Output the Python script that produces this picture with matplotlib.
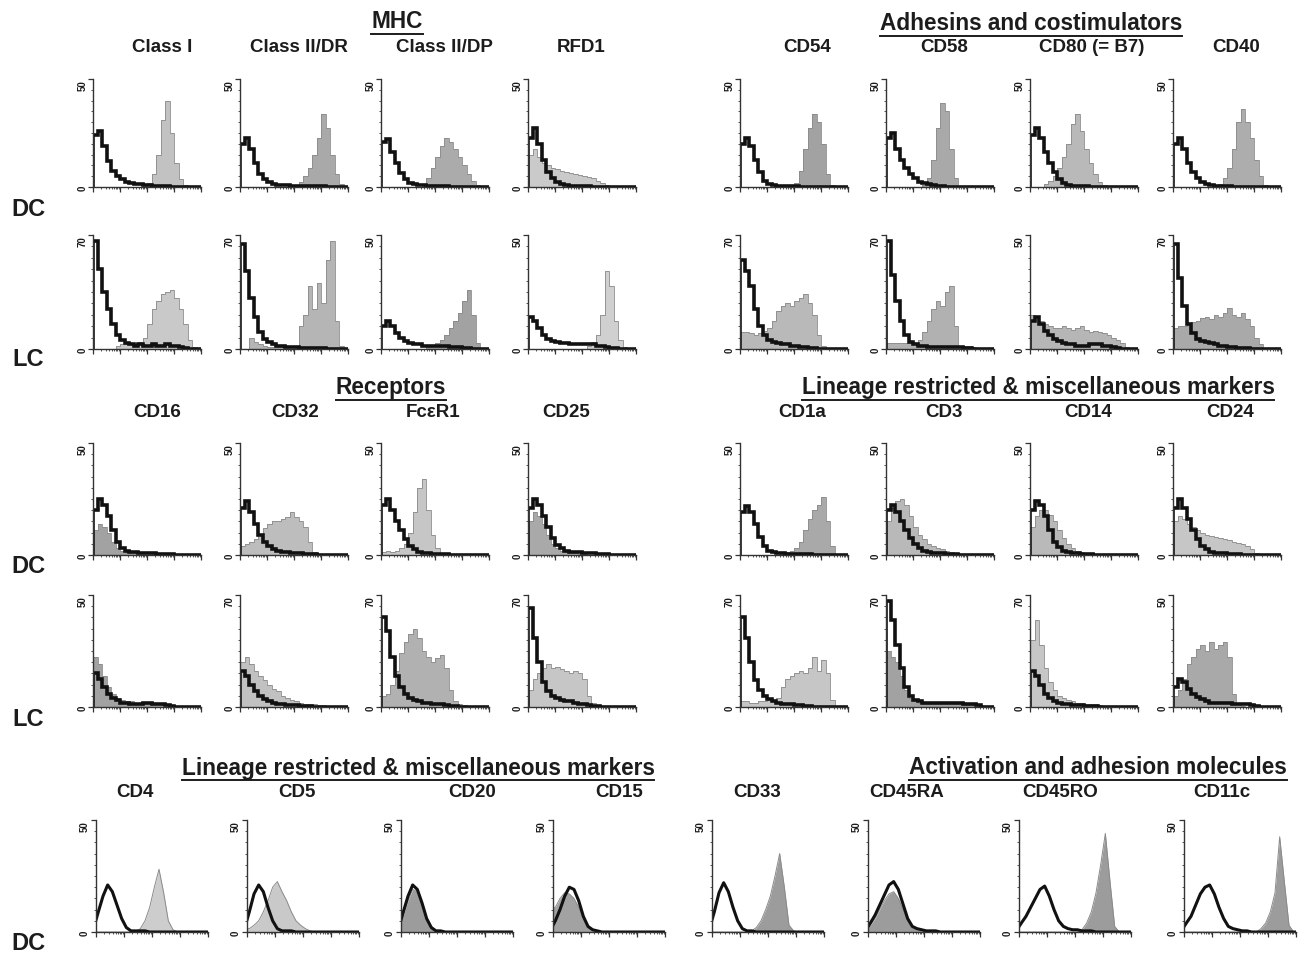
import matplotlib
matplotlib.use("Agg")
import matplotlib.pyplot as plt
from matplotlib.lines import Line2D
import numpy as np

plt.rcParams['font.family'] = ['Liberation Sans', 'DejaVu Sans']

# ---- data: 24 log-scale bins per histogram, % of the y-axis height ----
TOP_MARKERS = ["Class I", "Class II/DR", "Class II/DP", "RFD1",
               "CD54", "CD58", "CD80 (= B7)", "CD40"]
TOP_DC_CTRL = [
    [48, 52, 38, 24, 15, 10, 7, 5, 4, 3, 3, 2, 2, 1, 1, 1, 1, 0, 0, 0, 0, 0, 0, 0],
    [40, 45, 35, 22, 12, 7, 5, 3, 2, 2, 2, 1, 1, 1, 1, 1, 1, 1, 1, 0, 0, 0, 0, 0],
    [42, 44, 32, 22, 13, 7, 4, 3, 2, 2, 1, 1, 1, 1, 1, 0, 0, 0, 0, 0, 0, 0, 0, 0],
    [45, 55, 40, 25, 14, 8, 5, 3, 2, 1, 1, 1, 1, 1, 0, 0, 0, 0, 0, 0, 0, 0, 0, 0],
    [40, 45, 38, 25, 14, 6, 3, 2, 1, 1, 1, 1, 1, 0, 0, 0, 0, 0, 0, 0, 0, 0, 0, 0],
    [45, 50, 35, 25, 18, 12, 8, 5, 4, 3, 2, 1, 1, 0, 0, 0, 0, 0, 0, 0, 0, 0, 0, 0],
    [48, 55, 45, 32, 22, 14, 7, 4, 2, 1, 1, 1, 1, 0, 0, 0, 0, 0, 0, 0, 0, 0, 0, 0],
    [40, 45, 35, 22, 14, 8, 5, 3, 2, 1, 1, 1, 1, 0, 0, 0, 0, 0, 0, 0, 0, 0, 0, 0],
]
TOP_DC_STAIN = [
    [0, 0, 0, 0, 0, 0, 0, 0, 0, 0, 0, 1, 4, 12, 30, 62, 80, 50, 22, 7, 2, 0, 0, 0],
    [0, 0, 0, 0, 0, 0, 0, 0, 0, 0, 0, 0, 2, 5, 10, 18, 30, 45, 68, 55, 30, 12, 3, 0],
    [0, 0, 0, 0, 0, 0, 0, 0, 0, 3, 8, 18, 28, 38, 45, 42, 35, 28, 20, 12, 6, 2, 0, 0],
    [30, 35, 28, 22, 20, 18, 17, 15, 14, 13, 12, 11, 10, 9, 8, 6, 4, 2, 1, 0, 0, 0, 0, 0],
    [0, 0, 0, 0, 0, 0, 0, 0, 0, 0, 0, 1, 4, 15, 35, 55, 68, 60, 40, 12, 2, 0, 0, 0],
    [0, 0, 0, 0, 0, 0, 0, 0, 2, 8, 25, 55, 78, 70, 35, 8, 1, 0, 0, 0, 0, 0, 0, 0],
    [0, 0, 0, 3, 6, 10, 18, 28, 40, 58, 68, 52, 35, 22, 12, 5, 2, 0, 0, 0, 0, 0, 0, 0],
    [0, 0, 0, 0, 0, 0, 0, 0, 0, 0, 3, 8, 18, 35, 60, 72, 60, 45, 25, 10, 2, 0, 0, 0],
]
TOP_LC_CTRL = [
    [95, 70, 50, 35, 22, 12, 8, 5, 4, 3, 4, 3, 3, 4, 3, 3, 4, 3, 3, 2, 1, 0, 0, 0],
    [92, 68, 45, 28, 15, 9, 6, 4, 3, 3, 2, 2, 2, 1, 1, 1, 1, 1, 1, 0, 0, 0, 0, 0],
    [20, 25, 20, 14, 10, 7, 5, 4, 4, 3, 3, 3, 3, 3, 3, 2, 2, 2, 1, 1, 0, 0, 0, 0],
    [28, 25, 18, 12, 9, 7, 6, 5, 5, 4, 4, 4, 4, 4, 4, 3, 3, 2, 1, 1, 0, 0, 0, 0],
    [78, 68, 55, 35, 20, 12, 8, 6, 5, 4, 4, 3, 3, 2, 2, 1, 1, 0, 0, 0, 0, 0, 0, 0],
    [95, 65, 42, 25, 12, 6, 4, 3, 3, 2, 2, 2, 2, 2, 2, 2, 2, 1, 1, 0, 0, 0, 0, 0],
    [25, 28, 22, 16, 12, 9, 7, 5, 4, 4, 3, 3, 3, 4, 4, 4, 3, 3, 2, 1, 0, 0, 0, 0],
    [92, 62, 38, 22, 14, 9, 7, 6, 5, 4, 3, 3, 2, 2, 1, 1, 1, 0, 0, 0, 0, 0, 0, 0],
]
TOP_LC_STAIN = [
    [0, 0, 0, 0, 0, 3, 4, 4, 5, 5, 6, 10, 22, 35, 42, 48, 50, 52, 45, 35, 22, 8, 2, 0],
    [0, 0, 10, 6, 4, 3, 2, 2, 2, 2, 2, 2, 3, 20, 30, 55, 35, 58, 40, 78, 95, 25, 3, 0],
    [0, 0, 0, 0, 0, 0, 0, 0, 0, 0, 2, 3, 5, 8, 12, 18, 25, 32, 42, 52, 30, 5, 0, 0],
    [0, 0, 0, 0, 0, 0, 0, 0, 0, 0, 0, 0, 0, 3, 6, 12, 30, 68, 55, 25, 8, 2, 0, 0],
    [15, 15, 14, 12, 14, 16, 18, 25, 33, 38, 40, 38, 42, 45, 48, 40, 30, 12, 3, 0, 0, 0, 0, 0],
    [5, 5, 5, 5, 5, 5, 5, 8, 15, 25, 35, 42, 38, 50, 55, 20, 3, 3, 3, 2, 0, 0, 0, 0],
    [30, 28, 25, 22, 20, 18, 18, 20, 18, 17, 18, 20, 17, 15, 16, 15, 14, 12, 10, 8, 5, 2, 0, 0],
    [18, 20, 20, 22, 24, 25, 27, 28, 26, 30, 28, 32, 36, 30, 28, 32, 26, 20, 10, 4, 1, 0, 0, 0],
]

MID_MARKERS = ["CD16", "CD32", "FcεR1", "CD25", "CD1a", "CD3", "CD14", "CD24"]
MID_DC_CTRL = [
    [40, 50, 45, 35, 22, 12, 6, 4, 3, 3, 2, 2, 2, 2, 1, 1, 1, 1, 0, 0, 0, 0, 0, 0],
    [42, 48, 38, 28, 18, 12, 8, 5, 4, 3, 3, 2, 2, 2, 1, 1, 1, 0, 0, 0, 0, 0, 0, 0],
    [45, 50, 40, 30, 22, 14, 8, 5, 3, 2, 2, 1, 1, 1, 1, 0, 0, 0, 0, 0, 0, 0, 0, 0],
    [42, 50, 45, 35, 25, 15, 9, 6, 4, 3, 3, 3, 2, 2, 2, 1, 1, 1, 0, 0, 0, 0, 0, 0],
    [38, 44, 38, 28, 16, 8, 4, 3, 2, 2, 1, 1, 1, 1, 1, 1, 0, 0, 0, 0, 0, 0, 0, 0],
    [40, 45, 38, 30, 22, 15, 10, 6, 4, 3, 2, 2, 2, 1, 1, 1, 0, 0, 0, 0, 0, 0, 0, 0],
    [40, 48, 45, 35, 22, 12, 7, 4, 3, 2, 2, 1, 1, 1, 0, 0, 0, 0, 0, 0, 0, 0, 0, 0],
    [42, 50, 42, 32, 22, 14, 8, 5, 3, 2, 2, 2, 1, 1, 1, 0, 0, 0, 0, 0, 0, 0, 0, 0],
]
MID_DC_STAIN = [
    [22, 28, 25, 20, 12, 6, 4, 3, 2, 2, 2, 2, 2, 1, 1, 1, 1, 1, 0, 0, 0, 0, 0, 0],
    [8, 10, 12, 14, 18, 24, 28, 30, 30, 32, 34, 38, 34, 30, 25, 12, 3, 0, 0, 0, 0, 0, 0, 0],
    [3, 4, 3, 4, 6, 10, 20, 38, 60, 68, 40, 18, 6, 2, 1, 0, 0, 0, 0, 0, 0, 0, 0, 0],
    [30, 38, 35, 28, 18, 10, 6, 4, 3, 2, 2, 1, 1, 0, 0, 0, 0, 0, 0, 0, 0, 0, 0, 0],
    [0, 0, 0, 0, 0, 0, 0, 0, 2, 2, 3, 4, 6, 12, 22, 32, 40, 45, 52, 30, 8, 1, 0, 0],
    [30, 42, 48, 50, 45, 35, 25, 18, 14, 10, 8, 6, 5, 4, 3, 2, 1, 0, 0, 0, 0, 0, 0, 0],
    [25, 35, 40, 40, 36, 30, 22, 15, 10, 6, 4, 3, 2, 1, 0, 0, 0, 0, 0, 0, 0, 0, 0, 0],
    [30, 35, 32, 28, 25, 22, 20, 18, 17, 16, 15, 14, 13, 12, 11, 10, 8, 5, 2, 0, 0, 0, 0, 0],
]
MID_LC_CTRL = [
    [30, 25, 18, 12, 8, 6, 4, 4, 3, 3, 3, 4, 4, 3, 3, 3, 2, 1, 0, 0, 0, 0, 0, 0],
    [32, 28, 20, 14, 10, 7, 5, 4, 3, 3, 2, 2, 2, 1, 1, 1, 0, 0, 0, 0, 0, 0, 0, 0],
    [80, 68, 45, 28, 18, 12, 8, 6, 5, 4, 4, 3, 3, 3, 2, 1, 1, 0, 0, 0, 0, 0, 0, 0],
    [88, 62, 40, 22, 14, 10, 8, 6, 5, 5, 4, 3, 3, 2, 1, 1, 0, 0, 0, 0, 0, 0, 0, 0],
    [80, 62, 40, 24, 15, 10, 7, 5, 4, 3, 3, 3, 2, 2, 1, 1, 0, 0, 0, 0, 0, 0, 0, 0],
    [95, 78, 55, 35, 18, 10, 6, 5, 4, 4, 4, 4, 4, 4, 4, 4, 4, 3, 3, 3, 2, 0, 0, 0],
    [32, 28, 20, 12, 8, 5, 4, 3, 3, 2, 2, 2, 1, 1, 1, 0, 0, 0, 0, 0, 0, 0, 0, 0],
    [18, 25, 22, 16, 12, 9, 7, 5, 4, 4, 4, 4, 4, 3, 3, 3, 3, 2, 1, 0, 0, 0, 0, 0],
]
MID_LC_STAIN = [
    [45, 38, 28, 18, 12, 8, 6, 5, 5, 4, 4, 4, 4, 3, 3, 2, 1, 0, 0, 0, 0, 0, 0, 0],
    [40, 45, 38, 32, 28, 24, 20, 16, 14, 10, 8, 6, 5, 4, 3, 3, 3, 2, 2, 1, 0, 0, 0, 0],
    [10, 12, 20, 32, 48, 58, 65, 70, 62, 50, 45, 40, 44, 46, 35, 15, 5, 3, 2, 1, 0, 0, 0, 0],
    [15, 25, 30, 35, 38, 35, 36, 34, 32, 30, 32, 30, 25, 10, 4, 2, 1, 0, 0, 0, 0, 0, 0, 0],
    [5, 5, 4, 4, 5, 5, 6, 6, 8, 18, 25, 28, 30, 32, 30, 35, 45, 32, 42, 30, 6, 0, 0, 0],
    [50, 45, 40, 28, 15, 8, 5, 4, 3, 3, 3, 3, 3, 3, 3, 3, 3, 2, 2, 2, 1, 0, 0, 0],
    [60, 78, 55, 35, 22, 15, 10, 8, 6, 5, 4, 4, 3, 3, 3, 2, 1, 0, 0, 0, 0, 0, 0, 0],
    [10, 15, 25, 38, 45, 52, 55, 50, 58, 52, 55, 58, 45, 12, 3, 1, 0, 0, 0, 0, 0, 0, 0, 0],
]

BOT_MARKERS = ["CD4", "CD5", "CD20", "CD15", "CD33", "CD45RA", "CD45RO", "CD11c"]
BOT_DC_CTRL = [
    [18, 32, 42, 36, 24, 12, 4, 1, 1, 1, 1, 0, 0, 0, 0, 0, 0, 0, 0, 0, 0, 0, 0, 0],
    [18, 34, 42, 36, 22, 10, 3, 1, 1, 1, 0, 0, 0, 0, 0, 0, 0, 0, 0, 0, 0, 0, 0, 0],
    [18, 32, 42, 38, 26, 12, 4, 1, 1, 0, 0, 0, 0, 0, 0, 0, 0, 0, 0, 0, 0, 0, 0, 0],
    [10, 20, 32, 40, 38, 28, 14, 5, 2, 1, 0, 0, 0, 0, 0, 0, 0, 0, 0, 0, 0, 0, 0, 0],
    [18, 35, 44, 36, 22, 10, 3, 1, 1, 0, 0, 0, 0, 0, 0, 0, 0, 0, 0, 0, 0, 0, 0, 0],
    [8, 15, 24, 33, 42, 45, 38, 25, 12, 5, 3, 2, 1, 1, 1, 0, 0, 0, 0, 0, 0, 0, 0, 0],
    [8, 14, 22, 30, 38, 41, 32, 20, 10, 5, 3, 2, 2, 1, 1, 1, 0, 0, 0, 0, 0, 0, 0, 0],
    [8, 14, 24, 34, 40, 42, 34, 22, 12, 5, 3, 2, 1, 1, 0, 0, 0, 0, 0, 0, 0, 0, 0, 0],
]
BOT_DC_STAIN = [
    [0, 0, 0, 0, 0, 0, 0, 0, 0, 3, 10, 22, 40, 56, 35, 10, 2, 0, 0, 0, 0, 0, 0, 0],
    [3, 6, 10, 18, 28, 40, 45, 36, 28, 18, 10, 6, 3, 1, 0, 0, 0, 0, 0, 0, 0, 0, 0, 0],
    [15, 28, 38, 36, 24, 10, 3, 1, 0, 0, 0, 0, 0, 0, 0, 0, 0, 0, 0, 0, 0, 0, 0, 0],
    [22, 30, 35, 34, 30, 22, 12, 5, 2, 0, 0, 0, 0, 0, 0, 0, 0, 0, 0, 0, 0, 0, 0, 0],
    [0, 0, 0, 0, 0, 0, 0, 0, 1, 4, 10, 20, 32, 50, 70, 40, 6, 1, 0, 0, 0, 0, 0, 0],
    [6, 12, 20, 28, 34, 36, 30, 20, 10, 4, 2, 1, 0, 0, 0, 0, 0, 0, 0, 0, 0, 0, 0, 0],
    [0, 0, 0, 0, 0, 0, 0, 0, 0, 0, 0, 0, 0, 2, 8, 18, 35, 60, 88, 45, 5, 0, 0, 0],
    [0, 0, 0, 0, 0, 0, 0, 0, 0, 0, 0, 0, 0, 0, 0, 0, 3, 8, 18, 35, 85, 45, 6, 0],
]

TOP_DC_YMAX = ["50"] * 8
TOP_LC_YMAX = ["70", "70", "50", "50", "70", "70", "50", "70"]
MID_DC_YMAX = ["50"] * 8
MID_LC_YMAX = ["50", "70", "70", "70", "70", "70", "70", "50"]
BOT_DC_YMAX = ["50"] * 8

# ---- styles / layout (pixels) ----
W, H = 1307, 954
TOP_DC_COL = ["#c2c2c2", "#a9a9a9", "#ababab", "#cacaca", "#a2a2a2", "#a9a9a9", "#b9b9b9", "#adadad"]
TOP_LC_COL = ["#c9c9c9", "#b5b5b5", "#a2a2a2", "#d0d0d0", "#b9b9b9", "#b1b1b1", "#b6b6b6", "#a9a9a9"]
MID_DC_COL = ["#a2a2a2", "#bdbdbd", "#c6c6c6", "#a9a9a9", "#a9a9a9", "#b9b9b9", "#b9b9b9", "#c6c6c6"]
MID_LC_COL = ["#a2a2a2", "#c1c1c1", "#b1b1b1", "#c6c6c6", "#c6c6c6", "#a2a2a2", "#c6c6c6", "#a9a9a9"]
BOT_DC_COL = ["#cdcdcd", "#c9c9c9", "#9c9c9c", "#a2a2a2", "#9c9c9c", "#9c9c9c", "#9c9c9c", "#9c9c9c"]

GRID_X = [93, 240, 381, 528, 740, 886, 1030, 1173]
BOT_X = [96, 247, 401, 553, 712, 868, 1019, 1184]
INK = "#1c1c1c"

fig = plt.figure(figsize=(W / 100, H / 100), dpi=100)


def panel(x0, top, base, ctrl, stain, color, ymax, width=108, smooth=False):
    ax = fig.add_axes([x0 / W, 1 - base / H, width / W, (base - top) / H])
    n = len(ctrl)
    if smooth:
        # bottom row: traces drawn as continuous curves
        xs = np.concatenate([[0], np.arange(n) + 0.5, [n]])
        st = np.concatenate([[stain[0]], stain, [0]])
        ct = np.concatenate([[ctrl[0] * 0.6], ctrl, [0]])
        ax.fill_between(xs, st, color=color, lw=0)
        ax.plot(xs, st, color="#8a8a8a", lw=0.7)
        ax.plot(xs, ct, color="#111111", lw=2.2, solid_joinstyle="round")
    else:
        edges = np.arange(n + 1)
        ax.stairs(stain, edges, fill=True, color=color, lw=0)
        ax.stairs(stain, edges, color="#8a8a8a", lw=0.6)
        ax.stairs(ctrl, edges, color="#111111", lw=2.6)
    ax.set_xlim(0, n)
    ax.set_ylim(0, 100)
    for s in ("top", "right"):
        ax.spines[s].set_visible(False)
    for s in ("left", "bottom"):
        ax.spines[s].set_linewidth(1.0)
        ax.spines[s].set_color("#333333")
    ax.set_yticks([0, 100])
    ax.set_yticks(np.arange(10, 100, 10), minor=True)
    ax.set_xticks([0, 6, 12, 18, 24])
    ax.set_xticks([d * 6 + 6 * np.log10(k) for d in range(4) for k in range(2, 10)], minor=True)
    ax.tick_params(which="major", length=3.5, width=0.9, color="#333333",
                   labelleft=False, labelbottom=False)
    ax.tick_params(which="minor", length=1.6, width=0.7, color="#555555")
    ax.text(-0.1, 1.0, ymax, rotation=90, transform=ax.transAxes,
            fontsize=7, ha="center", va="top", color=INK, fontweight="bold")
    ax.text(-0.1, 0.0, "0", rotation=90, transform=ax.transAxes,
            fontsize=7, ha="center", va="center", color=INK, fontweight="bold")
    return ax


for i in range(8):
    panel(GRID_X[i], 80, 188, TOP_DC_CTRL[i], TOP_DC_STAIN[i], TOP_DC_COL[i], TOP_DC_YMAX[i])
    panel(GRID_X[i], 236, 350, TOP_LC_CTRL[i], TOP_LC_STAIN[i], TOP_LC_COL[i], TOP_LC_YMAX[i])
    panel(GRID_X[i], 444, 556, MID_DC_CTRL[i], MID_DC_STAIN[i], MID_DC_COL[i], MID_DC_YMAX[i])
    panel(GRID_X[i], 596, 708, MID_LC_CTRL[i], MID_LC_STAIN[i], MID_LC_COL[i], MID_LC_YMAX[i])
    panel(BOT_X[i], 821, 933, BOT_DC_CTRL[i], BOT_DC_STAIN[i], BOT_DC_COL[i], BOT_DC_YMAX[i],
          width=112, smooth=True)


def ptext(x, y, s, size, **kw):
    return fig.text(x / W, 1 - y / H, s, fontsize=size, fontweight="bold",
                    ha="center", va="center", color=INK, **kw)


headers = [
    (397, 22, "MHC"),
    (1031, 24, "Adhesins and costimulators"),
    (391, 388, "Receptors"),
    (1038, 388, "Lineage restricted & miscellaneous markers"),
    (418, 768, "Lineage restricted & miscellaneous markers"),
    (1098, 768, "Activation and adhesion molecules"),
]
head_txt = [ptext(x, y, s, 16.3) for x, y, s in headers]

TOP_LX = [162, 299, 444, 581, 807, 944, 1092, 1236]
MID_LX = [157, 295, 433, 566, 802, 944, 1088, 1230]
BOT_LX = [135, 297, 472, 619, 757, 907, 1060, 1222]
for i in range(8):
    ptext(TOP_LX[i], 48, TOP_MARKERS[i], 13.5)
    ptext(MID_LX[i], 413, MID_MARKERS[i], 13.5)
    ptext(BOT_LX[i], 793, BOT_MARKERS[i], 13.5)

for y, s in [(210, "DC"), (360, "LC"), (567, "DC"), (720, "LC"), (944, "DC")]:
    ptext(28, y, s, 17)

fig.canvas.draw()
r = fig.canvas.get_renderer()
for t in head_txt:
    bb = t.get_window_extent(r)
    yy = bb.y0 - 1
    fig.add_artist(Line2D([bb.x0 / W, bb.x1 / W], [yy / H, yy / H],
                          transform=fig.transFigure, color=INK, lw=1.4))

fig.savefig("out.png", dpi=100)
